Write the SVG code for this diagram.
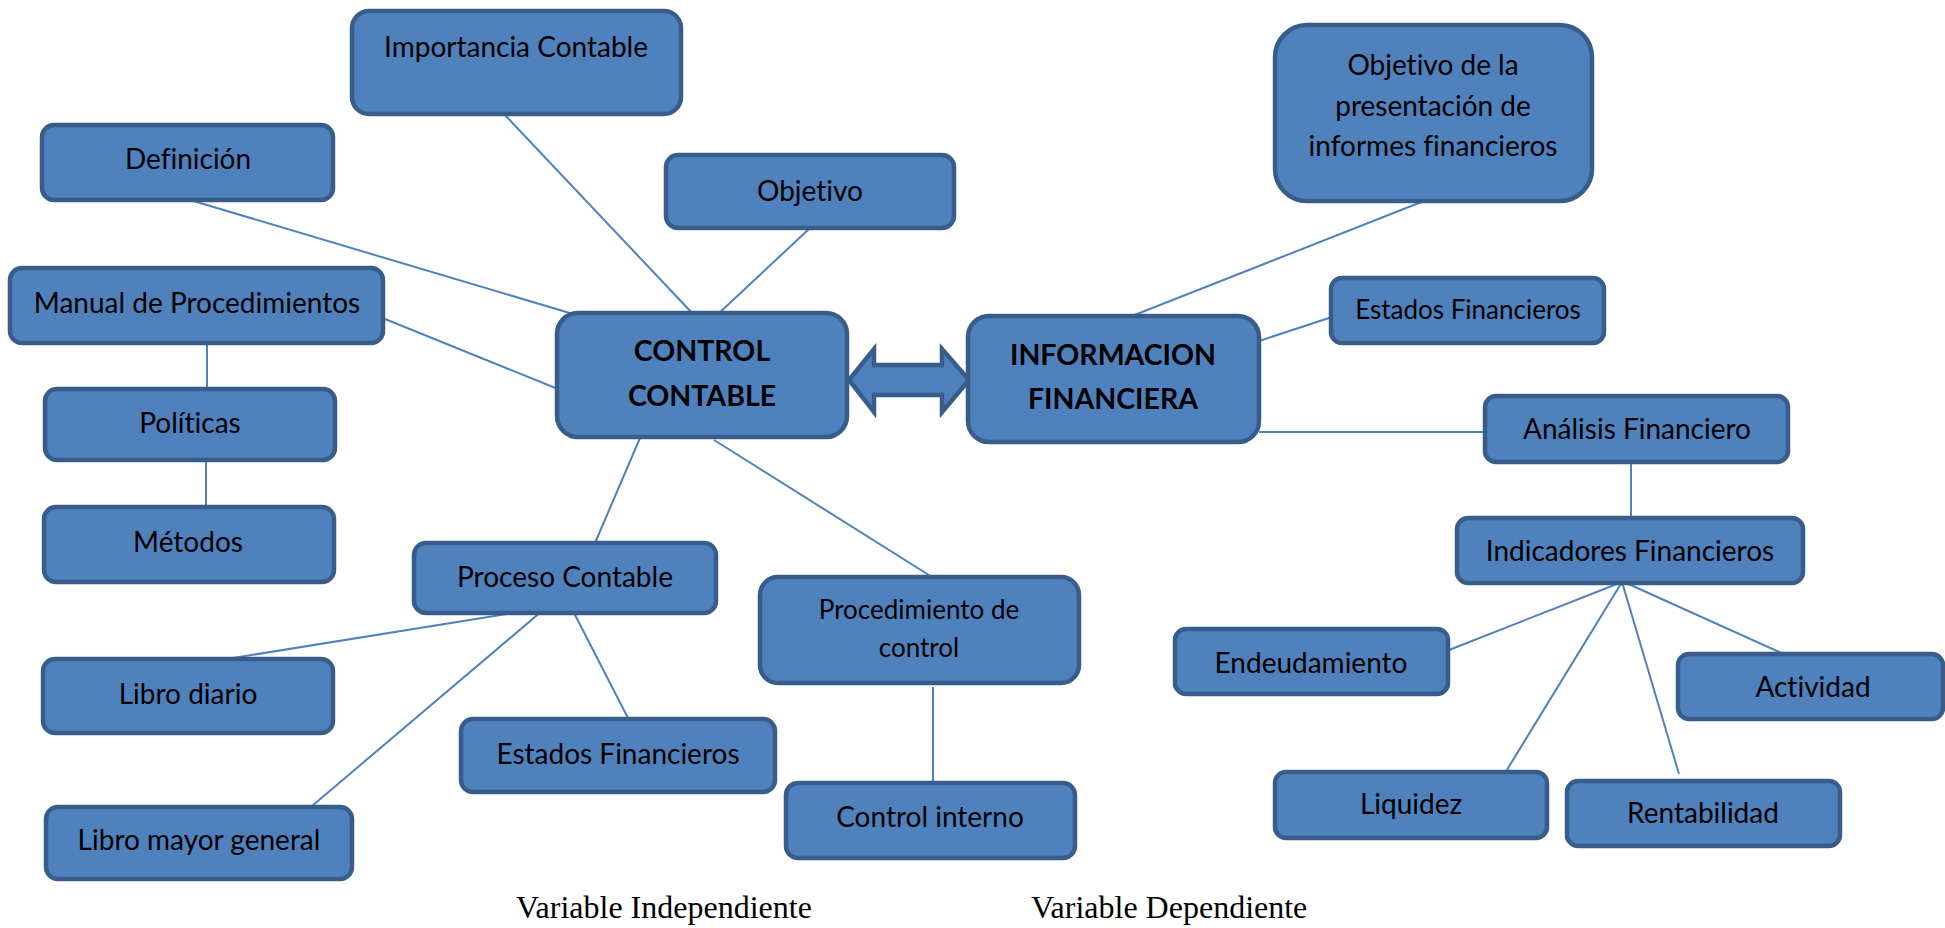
<svg xmlns="http://www.w3.org/2000/svg" width="1945" height="928" viewBox="0 0 1945 928">
  <style>
    .box { fill: #4F81BD; stroke: #385D8A; stroke-width: 4.5; }
    .lbl { font-family: Lato, "Liberation Sans", sans-serif; font-size: 28px; fill: #000; text-anchor: middle; font-variant-ligatures: none; }
    .lbl.sm { font-size: 26px; }
    .lbl.bold { font-weight: bold; font-size: 28.5px; }
    .conn line { stroke: #4F81BD; stroke-width: 2; }
    .cap { font-family: "Liberation Serif", "Times New Roman", serif; font-size: 32px; fill: #000; }
  </style>

  <rect width="1945" height="928" fill="#fff"/>

  <!-- connectors -->
  <g id="connectors" class="conn">
    <line x1="504" y1="114" x2="694" y2="315"/>
    <line x1="190" y1="200" x2="573" y2="314"/>
    <line x1="385" y1="319" x2="558" y2="389"/>
    <line x1="207" y1="343" x2="207" y2="389"/>
    <line x1="206" y1="460" x2="206" y2="507"/>
    <line x1="809" y1="229" x2="717" y2="315"/>
    <line x1="640" y1="438" x2="595" y2="543"/>
    <line x1="714" y1="440" x2="932" y2="577"/>
    <line x1="525" y1="611" x2="233" y2="658"/>
    <line x1="542" y1="611" x2="312" y2="806"/>
    <line x1="573" y1="611" x2="628" y2="718"/>
    <line x1="933" y1="687" x2="933" y2="784"/>
    <line x1="1424" y1="201" x2="1132" y2="316"/>
    <line x1="1259" y1="341" x2="1332" y2="317"/>
    <line x1="1259" y1="432" x2="1485" y2="432"/>
    <line x1="1631" y1="462" x2="1631" y2="518"/>
    <line x1="1622" y1="582" x2="1449" y2="650"/>
    <line x1="1622" y1="582" x2="1505" y2="773"/>
    <line x1="1622" y1="582" x2="1679" y2="774"/>
    <line x1="1624" y1="582" x2="1786" y2="655"/>
  </g>

  <!-- two-way arrow between the main concepts -->
  <g id="double-arrow">
    <polygon class="box" stroke-width="4" points="849,380 874,349 874,365 942,365 942,349 969,380 942,412 942,395 874,395 874,412"/>
  </g>

  <!-- left side: CONTROL CONTABLE -->
  <g id="importancia">
    <rect class="box" x="352" y="11" width="329" height="103" rx="17"/>
    <text class="lbl" x="516" y="57">Importancia Contable</text>
  </g>
  <g id="definicion">
    <rect class="box" x="42" y="125" width="291" height="75" rx="12"/>
    <text class="lbl" x="188" y="169">Definición</text>
  </g>
  <g id="manual">
    <rect class="box" x="10" y="268" width="373" height="75" rx="12"/>
    <text class="lbl" x="197" y="313">Manual de Procedimientos</text>
  </g>
  <g id="politicas">
    <rect class="box" x="45" y="389" width="290" height="71" rx="12"/>
    <text class="lbl" x="190" y="433">Políticas</text>
  </g>
  <g id="metodos">
    <rect class="box" x="44" y="507" width="290" height="75" rx="12"/>
    <text class="lbl" x="188" y="552">Métodos</text>
  </g>
  <g id="objetivo">
    <rect class="box" x="666" y="155" width="288" height="73" rx="12"/>
    <text class="lbl" x="810" y="201">Objetivo</text>
  </g>
  <g id="control-contable">
    <rect class="box" x="557" y="313" width="290" height="124" rx="21"/>
    <text class="lbl bold" x="702" y="361">CONTROL</text>
    <text class="lbl bold" x="702" y="406">CONTABLE</text>
  </g>
  <g id="proceso-contable">
    <rect class="box" x="414" y="543" width="302" height="70" rx="12"/>
    <text class="lbl" x="565" y="587">Proceso Contable</text>
  </g>
  <g id="libro-diario">
    <rect class="box" x="43" y="659" width="290" height="74" rx="12"/>
    <text class="lbl" x="188" y="704">Libro diario</text>
  </g>
  <g id="estados-financieros-1">
    <rect class="box" x="461" y="719" width="314" height="73" rx="12"/>
    <text class="lbl" x="618" y="764">Estados Financieros</text>
  </g>
  <g id="libro-mayor">
    <rect class="box" x="46" y="807" width="306" height="72" rx="12"/>
    <text class="lbl" x="199" y="850">Libro mayor general</text>
  </g>
  <g id="procedimiento-control">
    <rect class="box" x="760" y="577" width="319" height="106" rx="18"/>
    <text class="lbl sm" x="919" y="619">Procedimiento de</text>
    <text class="lbl sm" x="919" y="657">control</text>
  </g>
  <g id="control-interno">
    <rect class="box" x="786" y="783" width="289" height="75" rx="12"/>
    <text class="lbl" x="930" y="827">Control interno</text>
  </g>

  <!-- right side: INFORMACION FINANCIERA -->
  <g id="informacion-financiera">
    <rect class="box" x="968" y="316" width="291" height="126" rx="21"/>
    <text class="lbl bold" x="1113" y="365">INFORMACION</text>
    <text class="lbl bold" x="1113" y="409">FINANCIERA</text>
  </g>
  <g id="objetivo-presentacion">
    <rect class="box" x="1275" y="25" width="317" height="176" rx="32"/>
    <text class="lbl" x="1433" y="75">Objetivo de la</text>
    <text class="lbl" x="1433" y="116">presentación de</text>
    <text class="lbl" x="1433" y="156">informes financieros</text>
  </g>
  <g id="estados-financieros-2">
    <rect class="box" x="1331" y="278" width="273" height="65" rx="11"/>
    <text class="lbl sm" x="1468" y="319">Estados Financieros</text>
  </g>
  <g id="analisis">
    <rect class="box" x="1485" y="396" width="303" height="66" rx="11"/>
    <text class="lbl" x="1637" y="439">Análisis Financiero</text>
  </g>
  <g id="indicadores">
    <rect class="box" x="1457" y="518" width="346" height="65" rx="11"/>
    <text class="lbl" x="1630" y="561">Indicadores Financieros</text>
  </g>
  <g id="endeudamiento">
    <rect class="box" x="1175" y="629" width="273" height="65" rx="11"/>
    <text class="lbl" x="1311" y="673">Endeudamiento</text>
  </g>
  <g id="actividad">
    <rect class="box" x="1678" y="654" width="265" height="65" rx="11"/>
    <text class="lbl" x="1813" y="697">Actividad</text>
  </g>
  <g id="liquidez">
    <rect class="box" x="1275" y="772" width="272" height="66" rx="11"/>
    <text class="lbl" x="1411" y="814">Liquidez</text>
  </g>
  <g id="rentabilidad">
    <rect class="box" x="1567" y="781" width="273" height="65" rx="11"/>
    <text class="lbl" x="1703" y="823">Rentabilidad</text>
  </g>

  <!-- captions -->
  <g id="captions">
    <text class="cap" x="516" y="918">Variable Independiente</text>
    <text class="cap" x="1031" y="918">Variable Dependiente</text>
  </g>
</svg>
